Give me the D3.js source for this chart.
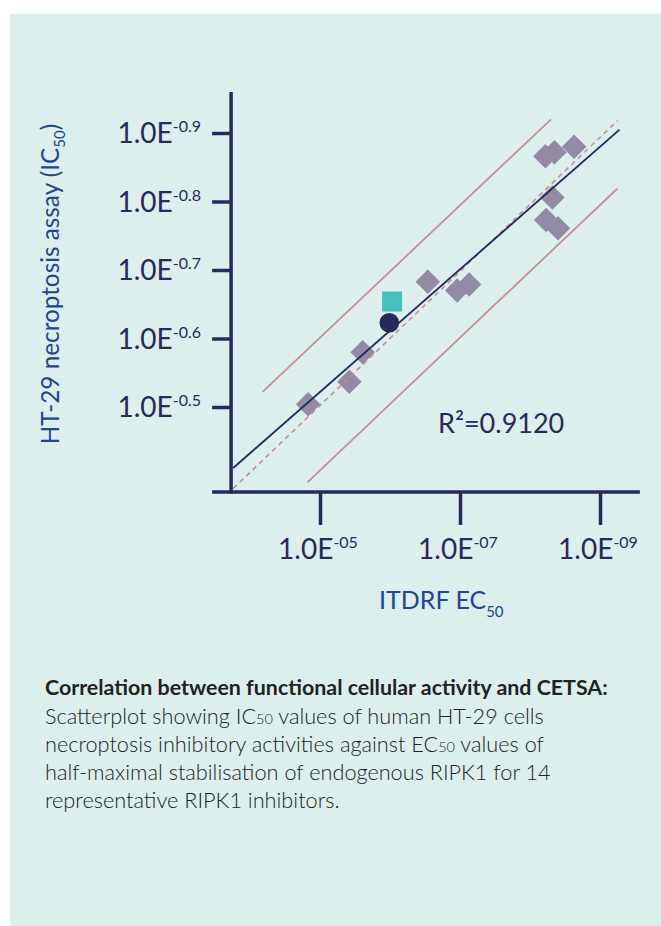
<!DOCTYPE html>
<html lang="en">
  <head>
    <meta charset="UTF-8" />
    <title>Correlation between functional cellular activity and CETSA</title>
    <script src="https://d3js.org/d3.v7.min.js"></script>
    <style>
      html, body { margin: 0; padding: 0; background: #fff; }
      svg { display: block; font-family: Lato, "Noto Sans", sans-serif; }
    </style>
  </head>
  <body>
    <svg id="chart" width="661" height="926"></svg>

    <script>
      // x = -log10(ITDRF EC50), y = exponent shown on the IC50 axis
      const diamondX = [4.83, 5.42, 5.61, 6.54, 6.96, 7.13, 8.22, 8.35, 8.63, 8.32, 8.23, 8.40];
      const diamondY = [0.504, 0.537, 0.580, 0.683, 0.670, 0.679, 0.866, 0.872, 0.880, 0.806, 0.773, 0.761];
      const squarePoint = [6.03, 0.654];
      const circlePoint = [5.99, 0.623];

      const fitLine = [[3.76, 0.411], [9.28, 0.905]];
      const identityLine = [[3.76, 0.381], [9.25, 0.918]];
      const upperBand = [[4.18, 0.522], [8.30, 0.920]];
      const lowerBand = [[4.82, 0.390], [9.25, 0.819]];

      const xTicks = [5, 7, 9];
      const xTickLabels = ["-05", "-07", "-09"];
      const yTicks = [0.5, 0.6, 0.7, 0.8, 0.9];
      const yTickLabels = ["-0.5", "-0.6", "-0.7", "-0.8", "-0.9"];
      const xExtent = [3.73, 9.57];
      const yExtent = [0.376, 0.96];

      const rSquared = "R²=0.9120";
      const captionTitle = "Correlation between functional cellular activity and CETSA:";
      const captionLines = [
        ["Scatterplot showing IC", "50", " values of human HT-29 cells"],
        ["necroptosis inhibitory activities against EC", "50", " values of"],
        ["half-maximal stabilisation of endogenous RIPK1 for 14"],
        ["representative RIPK1 inhibitors."]
      ];

      const navy = "#29285a";
      const pink = "#c98c96";

      const svg = d3.select("#chart");

      svg.append("rect")
        .attr("x", 10).attr("y", 14)
        .attr("width", 651).attr("height", 912)
        .attr("fill", "#dcefed");

      const x = d3.scaleLinear().domain([5, 9]).range([320, 600]);
      const y = d3.scaleLinear().domain([0.5, 0.9]).range([407, 133]);
      const x0 = x(xExtent[0]);
      const y0 = y(yExtent[0]);

      // diamonds
      const diamond = d3.symbol().type(d3.symbolSquare).size(300);
      svg.append("g")
        .selectAll("path")
        .data(diamondX.map((v, i) => [v, diamondY[i]]))
        .join("path")
        .attr("d", diamond)
        .attr("transform", (d) => `translate(${x(d[0])},${y(d[1])}) rotate(45)`)
        .attr("fill", "#938aa6");

      const line = d3.line().x((d) => x(d[0])).y((d) => y(d[1]));

      svg.append("path").datum(upperBand).attr("d", line)
        .attr("stroke", pink).attr("stroke-width", 1.8).attr("fill", "none");
      svg.append("path").datum(lowerBand).attr("d", line)
        .attr("stroke", pink).attr("stroke-width", 1.8).attr("fill", "none");
      svg.append("path").datum(identityLine).attr("d", line)
        .attr("stroke", pink).attr("stroke-width", 1.6)
        .attr("stroke-dasharray", "5,4").attr("fill", "none");
      svg.append("path").datum(fitLine).attr("d", line)
        .attr("stroke", navy).attr("stroke-width", 1.8).attr("fill", "none");

      svg.append("rect")
        .attr("x", x(squarePoint[0]) - 10).attr("y", y(squarePoint[1]) - 10)
        .attr("width", 20).attr("height", 20)
        .attr("fill", "#45c0bd");
      svg.append("circle")
        .attr("cx", x(circlePoint[0])).attr("cy", y(circlePoint[1]))
        .attr("r", 9.8).attr("fill", navy);

      // axes
      const yAxis = d3.axisLeft(y).tickValues(yTicks).tickSize(19).tickSizeOuter(0).tickFormat("");
      const gy = svg.append("g").attr("transform", `translate(${x0},0)`).call(yAxis);
      gy.select(".domain").remove();
      gy.selectAll(".tick line").attr("stroke", navy).attr("stroke-width", 3.5);

      const xAxis = d3.axisBottom(x).tickValues(xTicks).tickSize(33).tickSizeOuter(0).tickFormat("");
      const gx = svg.append("g").attr("transform", `translate(0,${y0})`).call(xAxis);
      gx.select(".domain").remove();
      gx.selectAll(".tick line").attr("stroke", navy).attr("stroke-width", 3.5);

      svg.append("line")
        .attr("x1", x0).attr("x2", x0)
        .attr("y1", y(yExtent[1])).attr("y2", y0 + 1.5)
        .attr("stroke", navy).attr("stroke-width", 3.5);
      svg.append("line")
        .attr("x1", x0 - 19).attr("x2", x(xExtent[1]))
        .attr("y1", y0).attr("y2", y0)
        .attr("stroke", navy).attr("stroke-width", 3.5);

      // tick labels
      const yLab = svg.append("g").selectAll("text")
        .data(yTicks)
        .join("text")
        .attr("x", 201)
        .attr("y", (d) => y(d) + 10)
        .attr("text-anchor", "end")
        .attr("fill", navy)
        .style("font-size", "28px");
      yLab.append("tspan").text("1.0E");
      yLab.append("tspan").attr("dy", -11).style("font-size", "16px")
        .text((d, i) => yTickLabels[i]);

      const xLab = svg.append("g").selectAll("text")
        .data(xTicks)
        .join("text")
        .attr("x", (d) => x(d) - 2)
        .attr("y", 559)
        .attr("text-anchor", "middle")
        .attr("fill", navy)
        .style("font-size", "28px");
      xLab.append("tspan").text("1.0E");
      xLab.append("tspan").attr("dy", -11).style("font-size", "16px")
        .text((d, i) => xTickLabels[i]);

      // axis titles
      const blue = "#22458f";
      const xTitle = svg.append("text")
        .attr("x", 379).attr("y", 609)
        .attr("fill", blue)
        .style("font-size", "25px");
      xTitle.append("tspan").text("ITDRF EC");
      xTitle.append("tspan").attr("dy", 8).style("font-size", "15px").text("50");

      const yTitle = svg.append("text")
        .attr("transform", "translate(59,284) rotate(-90)")
        .attr("text-anchor", "middle")
        .attr("fill", blue)
        .style("font-size", "24.3px");
      yTitle.append("tspan").text("HT-29 necroptosis assay (IC");
      yTitle.append("tspan").attr("dy", 6).style("font-size", "15px").text("50");
      yTitle.append("tspan").attr("dy", -6).text(")");

      svg.append("text")
        .attr("x", 438).attr("y", 433)
        .attr("fill", navy)
        .style("font-size", "27px")
        .text(rSquared);

      // caption
      svg.append("text")
        .attr("x", 45).attr("y", 695)
        .attr("fill", "#222")
        .style("font-size", "21.4px")
        .style("font-weight", "bold")
        .text(captionTitle);

      captionLines.forEach((parts, i) => {
        const t = svg.append("text")
          .attr("x", 45).attr("y", 724 + i * 28)
          .attr("fill", "#222")
          .style("font-size", "21.7px")
          .style("font-weight", 300);
        parts.forEach((p, j) => {
          t.append("tspan")
            .style("font-size", j === 1 ? "14.5px" : null)
            .text(p);
        });
      });
    </script>
  </body>
</html>
